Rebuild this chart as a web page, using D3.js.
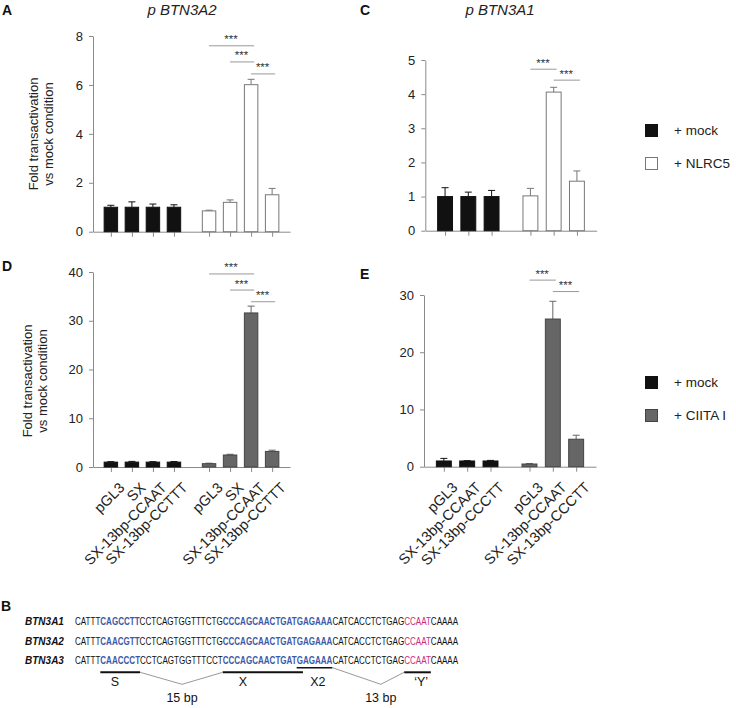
<!DOCTYPE html>
<html>
<head>
<meta charset="utf-8">
<script src="https://cdn.jsdelivr.net/npm/d3@7"></script>
<style>
  body { margin: 0; background: #fff; }
  svg text { font-family: "Liberation Sans", Arial, sans-serif; }
</style>
</head>
<body>
<div id="chart"></div>
<script>
// DATA
const labelsD = ["pGL3", "SX", "SX-13bp-CCAAT", "SX-13bp-CCTTT"];
const labelsE = ["pGL3", "SX-13bp-CCAAT", "SX-13bp-CCCTT"];

const mockA = [1, 1, 1, 1];
const mockAErr = [0.08, 0.22, 0.13, 0.1];
const nlrc5A = [0.85, 1.2, 6.01, 1.51];
const nlrc5AErr = [0.03, 0.1, 0.22, 0.26];

const mockC = [1, 1, 1];
const mockCErr = [0.26, 0.13, 0.18];
const nlrc5C = [1.02, 4.06, 1.45];
const nlrc5CErr = [0.22, 0.14, 0.3];

const mockD = [1, 1, 1, 1];
const mockDErr = [0.1, 0.15, 0.1, 0.12];
const ciitaD = [0.68, 2.46, 31.6, 3.2];
const ciitaDErr = [0.1, 0.15, 1.4, 0.25];

const mockE = [1, 1, 1];
const mockEErr = [0.45, 0.05, 0.1];
const ciitaE = [0.47, 25.8, 4.8];
const ciitaEErr = [0.08, 3.1, 0.7];

const ticksA = [0, 2, 4, 6, 8];
const ticksC = [0, 1, 2, 3, 4, 5];
const ticksD = [0, 10, 20, 30, 40];
const ticksE = [0, 10, 20, 30];

// [from bar, to bar, height of the line]
const sigA = [[4, 6, 7.6], [5, 6, 6.94], [6, 7, 6.45]];
const sigC = [[3, 4, 4.73], [4, 5, 4.41]];
const sigD = [[4, 6, 39.6], [5, 6, 36.3], [6, 7, 33.9]];
const sigE = [[3, 4, 32.6], [4, 5, 30.6]];

// promoter alignment (panel B)
const seqNames = ["BTN3A1", "BTN3A2", "BTN3A3"];
const seqParts = [
  [["CATTT", 0], ["CAGCCTT", 1], ["CCTCAGTGGTTTCTG", 0], ["CCCAGCAACTGATGAGAAA", 1], ["CATCACCTCTGAG", 0], ["CCAAT", 2], ["CAAAA", 0]],
  [["CATTT", 0], ["CAACGTT", 1], ["CCTCAGTGGTTTCTG", 0], ["CCCAGCAACTGATGAGAAA", 1], ["CATCACCTCTGAG", 0], ["CCAAT", 2], ["CAAAA", 0]],
  [["CATTT", 0], ["CAACCCT", 1], ["CCTCAGTGGTTTCCT", 0], ["CCCAGCAACTGAT", 1], ["GAGAAA", 3], ["CATCACCTCTGAG", 0], ["CCAAT", 2], ["CAAAA", 0]]
];
// motif char ranges in the sequence, label anchor char
const motifs = [
  { name: "S", from: 5, to: 11, at: 7 },
  { name: "X", from: 27, to: 40, at: 30 },
  { name: "X2", from: 40, to: 45, at: 43, under: true },
  { name: "\u2018Y\u2019", from: 59, to: 63, at: 61.5 }
];
const spacers = [
  { name: "15 bp", from: 11, to: 27, at: 19 },
  { name: "13 bp", from: 45, to: 59, at: 54.4 }
];

// CONSTANTS
const width = 736, height = 708;
const axisGrey = "#8a8a8a";
const seqColors = ["#111", "#3d5aa9", "#cc2a7f", "#3d5aa9"];

const svg = d3.select("#chart").append("svg")
  .attr("width", width)
  .attr("height", height);

function drawPanel(o) {
  const n = o.mock.length;
  const gap = 0.67;
  const pos = i => i < n ? i : i + gap;
  const last = pos(2 * n - 1);

  const x = d3.scaleLinear().domain([-0.85, last + 0.85]).range([o.x0, o.x1]);
  const y = d3.scaleLinear().domain([0, o.ticks[o.ticks.length - 1]]).range([o.y0, o.y1]);
  const step = x(1) - x(0);
  const bw = step * 0.64;

  const bars = o.mock.map((v, i) => ({ v, e: o.mockErr[i], i, fill: "#111", stroke: "#111", err: "#111" }))
    .concat(o.treat.map((v, i) => ({ v, e: o.treatErr[i], i: i + n, fill: o.fill, stroke: o.stroke, err: o.err })));

  const g = svg.append("g");

  // y axis
  const yAxis = d3.axisLeft(y).tickValues(o.ticks).tickFormat(d3.format("~g"))
    .tickSize(4).tickPadding(6).tickSizeOuter(0);
  const ya = g.append("g")
    .attr("transform", `translate(${o.x0},0)`)
    .call(yAxis);
  ya.select(".domain").attr("stroke", axisGrey);
  ya.selectAll(".tick line").attr("stroke", axisGrey);
  ya.selectAll(".tick text").attr("fill", "#222").style("font-size", "13px");

  // x axis
  const xAxis = d3.axisBottom(x).tickValues(bars.map(d => pos(d.i))).tickFormat("").tickSize(5).tickSizeOuter(0);
  const xa = g.append("g")
    .attr("transform", `translate(0,${o.y0})`)
    .call(xAxis);
  xa.select(".domain").attr("stroke", axisGrey);
  xa.selectAll(".tick line").attr("stroke", axisGrey);

  if (o.labels) {
    const labs = o.labels.concat(o.labels);
    g.selectAll(".xlab")
      .data(bars)
      .join("text")
      .attr("class", "xlab")
      .attr("text-anchor", "end")
      .attr("transform", d => `translate(${x(pos(d.i)) + 11},${o.y0 + 18}) rotate(-45)`)
      .attr("dy", "0.35em")
      .style("font-size", "14.5px")
      .attr("fill", "#222")
      .text(d => labs[d.i]);
  }

  // error bars
  g.selectAll(".err")
    .data(bars)
    .join("path")
    .attr("class", "err")
    .attr("fill", "none")
    .attr("stroke", d => d.err)
    .attr("stroke-width", 1)
    .attr("d", d => {
      const cx = x(pos(d.i));
      const top = y(d.v + d.e);
      return `M${cx},${y(d.v)}V${top}M${cx - 3.5},${top}H${cx + 3.5}`;
    });

  // bars
  g.selectAll(".bar")
    .data(bars)
    .join("rect")
    .attr("class", "bar")
    .attr("x", d => x(pos(d.i)) - bw / 2)
    .attr("width", bw)
    .attr("y", d => y(d.v))
    .attr("height", d => o.y0 - y(d.v))
    .attr("fill", d => d.fill)
    .attr("stroke", d => d.stroke)
    .attr("stroke-width", 1);

  // significance
  o.sig.forEach(s => {
    const xa1 = x(pos(s[0])), xa2 = x(pos(s[1])), yy = y(s[2]);
    g.append("line")
      .attr("x1", xa1).attr("x2", xa2 + 3)
      .attr("y1", yy).attr("y2", yy)
      .attr("stroke", "#999").attr("stroke-width", 1);
    g.append("text")
      .attr("x", (xa1 + xa2) / 2 + 1)
      .attr("y", yy - 2.5)
      .attr("text-anchor", "middle")
      .style("font-size", "11.5px")
      .attr("fill", "#333")
      .text("***");
  });

  // y label
  if (o.ylabel) {
    const yl = g.append("text")
      .attr("transform", `translate(${o.ylabelX},${o.ylabelY}) rotate(-90)`)
      .attr("text-anchor", "middle")
      .style("font-size", "13px")
      .attr("fill", "#222");
    yl.append("tspan").attr("x", 0).attr("dy", 0).text("Fold transactivation");
    yl.append("tspan").attr("x", 0).attr("dy", 15).text("vs mock condition");
  }

  if (o.title) {
    svg.append("text")
      .attr("x", o.titleX).attr("y", 14.5)
      .attr("text-anchor", "middle")
      .style("font-size", "15px")
      .style("font-style", "italic")
      .attr("fill", "#222")
      .text(o.title);
  }

  svg.append("text")
    .attr("x", o.letterX).attr("y", o.letterY)
    .style("font-size", "14px")
    .style("font-weight", "bold")
    .attr("fill", "#111")
    .text(o.letter);
}

drawPanel({
  letter: "A", letterX: 2, letterY: 15,
  title: "p BTN3A2", titleX: 182,
  x0: 93, x1: 290, y0: 231.7, y1: 36,
  ticks: ticksA, mock: mockA, mockErr: mockAErr, treat: nlrc5A, treatErr: nlrc5AErr,
  fill: "#fff", stroke: "#777", err: "#777",
  sig: sigA, ylabel: true, ylabelX: 38, ylabelY: 134
});
drawPanel({
  letter: "C", letterX: 360, letterY: 15,
  title: "p BTN3A1", titleX: 500,
  x0: 425.3, x1: 596.7, y0: 230.7, y1: 60,
  ticks: ticksC, mock: mockC, mockErr: mockCErr, treat: nlrc5C, treatErr: nlrc5CErr,
  fill: "#fff", stroke: "#777", err: "#777",
  sig: sigC
});
drawPanel({
  letter: "D", letterX: 2, letterY: 271,
  x0: 93, x1: 290, y0: 467, y1: 272,
  ticks: ticksD, mock: mockD, mockErr: mockDErr, treat: ciitaD, treatErr: ciitaDErr,
  fill: "#666", stroke: "#444", err: "#666",
  sig: sigD, labels: labelsD, ylabel: true, ylabelX: 32, ylabelY: 381
});
drawPanel({
  letter: "E", letterX: 360, letterY: 279,
  x0: 424, x1: 596, y0: 466.7, y1: 295,
  ticks: ticksE, mock: mockE, mockErr: mockEErr, treat: ciitaE, treatErr: ciitaEErr,
  fill: "#666", stroke: "#444", err: "#666",
  sig: sigE, labels: labelsE
});

// legends
function legend(items, y0) {
  const lg = svg.append("g");
  items.forEach((it, k) => {
    const yy = y0 + k * 33;
    lg.append("rect")
      .attr("x", 645.5).attr("y", yy + 0.5)
      .attr("width", 12).attr("height", 12)
      .attr("fill", it.fill).attr("stroke", it.stroke);
    lg.append("text")
      .attr("x", 674).attr("y", yy + 11)
      .style("font-size", "13.5px")
      .attr("fill", "#222")
      .text(it.name);
  });
}
legend([{ name: "+ mock", fill: "#111", stroke: "#111" }, { name: "+ NLRC5", fill: "#fff", stroke: "#777" }], 124);
legend([{ name: "+ mock", fill: "#111", stroke: "#111" }, { name: "+ CIITA I", fill: "#666", stroke: "#444" }], 376);

// panel B: sequences
svg.append("text")
  .attr("x", 1).attr("y", 611)
  .style("font-size", "14px")
  .style("font-weight", "bold")
  .attr("fill", "#111")
  .text("B");

// squeeze a text horizontally to a given width
function squeeze(sel, x0, y0, w) {
  const natural = sel.node().getComputedTextLength();
  const sx = w / natural;
  sel.attr("transform", `translate(${x0},${y0}) scale(${sx},1)`);
  return sx;
}

const rowY = [625, 644.5, 664];
const seqX = 75, seqW = 384;
let seqNode, seqSx;
seqParts.forEach((parts, r) => {
  const nm = svg.append("text")
    .style("font-size", "11.5px")
    .style("font-weight", "bold")
    .style("font-style", "italic")
    .attr("fill", "#111")
    .text(seqNames[r]);
  squeeze(nm, 25, rowY[r], 39);

  const t = svg.append("text")
    .style("font-size", "11.5px");
  t.selectAll("tspan")
    .data(parts)
    .join("tspan")
    .attr("fill", d => seqColors[d[1]])
    .style("font-weight", d => d[1] === 1 || d[1] === 3 ? "bold" : "normal")
    .text(d => d[0]);
  seqSx = squeeze(t, seqX, rowY[r], seqW);
  seqNode = t.node();
});

const cS = i => seqX + seqNode.getStartPositionOfChar(i).x * seqSx;
const cE = i => seqX + seqNode.getEndPositionOfChar(i).x * seqSx;
const cMid = a => {
  const i = Math.floor(a), f = a - i;
  return (cS(i) + cE(i)) / 2 + f * (cE(i) - cS(i));
};

const lineY = 672.3, dipY = 684.3;
motifs.forEach(m => {
  svg.append("line")
    .attr("x1", cS(m.from)).attr("x2", cE(m.to))
    .attr("y1", m.under ? 667.7 : lineY).attr("y2", m.under ? 667.7 : lineY)
    .attr("stroke", "#111").attr("stroke-width", m.under ? 1.5 : 2);
  svg.append("text")
    .attr("x", cMid(m.at)).attr("y", 686)
    .attr("text-anchor", "middle")
    .style("font-size", "12.5px")
    .attr("fill", "#111")
    .text(m.name);
});
spacers.forEach(s => {
  const xm = cMid(s.at);
  svg.append("path")
    .attr("fill", "none")
    .attr("stroke", "#999")
    .attr("stroke-width", 1)
    .attr("d", `M${cE(s.from)},${s.from === 45 ? 667.7 : lineY}L${xm},${dipY}L${cS(s.to)},${lineY}`);
  svg.append("text")
    .attr("x", xm).attr("y", 701.5)
    .attr("text-anchor", "middle")
    .style("font-size", "12.5px")
    .attr("fill", "#111")
    .text(s.name);
});
</script>
</body>
</html>
